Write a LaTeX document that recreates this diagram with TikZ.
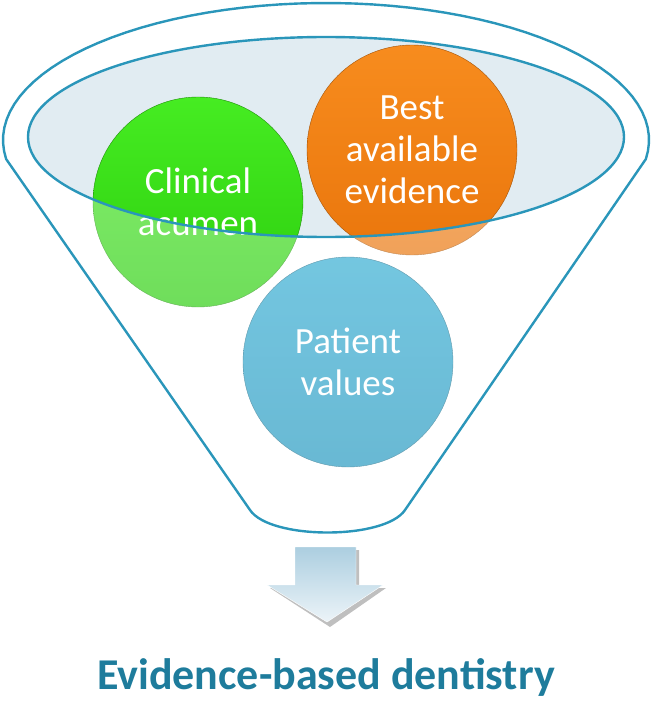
\documentclass[tikz,border=0pt]{standalone}
\usepackage{fontspec}
\setmainfont{Carlito}
\usepackage{xcolor}

\definecolor{funnelline}{RGB}{42,150,186}
\definecolor{rimfill}{RGB}{225,236,242}
\definecolor{greentop}{RGB}{70,236,34}
\definecolor{greenbot}{RGB}{44,206,14}
\definecolor{orangetop}{RGB}{247,140,30}
\definecolor{orangebot}{RGB}{234,118,12}
\definecolor{bluetop}{RGB}{50,172,210}
\definecolor{bluebot}{RGB}{34,152,192}
\definecolor{arrowtop}{RGB}{172,206,224}
\definecolor{arrowbot}{RGB}{236,244,248}
\definecolor{titleteal}{RGB}{30,124,156}

\begin{document}
\begin{tikzpicture}[x=1pt, y=-1pt,
    bubble/.style={circle, minimum size=210pt, inner sep=0pt, align=center, text=white, font=\fontsize{37}{42}\selectfont},
    funnel/.style={draw=funnelline, line width=2.4pt}]
    \useasboundingbox (0,0) rectangle (653,703);

    % Rim of the funnel
    \fill[rimfill] (326,137) ellipse [x radius=298, y radius=100];

    % Nodes
    \node[bubble, top color=greentop, bottom color=greenbot, draw=greenbot!70!black, thin] (clinical) at (198,202) {Clinical\\acumen};
    \node[bubble, top color=orangetop, bottom color=orangebot, draw=orangebot!70!black, thin] (evidence) at (412,150) {Best\\available\\evidence};
    \node[bubble, top color=bluetop, bottom color=bluebot, draw=bluebot!70!black, thin] (patient) at (348,362) {Patient\\values};

    % Funnel body (washes out what lies below the rim)
    \fill[white, fill opacity=.32, even odd rule]
        (250,510) -- plot[domain=188:-8, samples=60] ({326+323*cos(\x)},{140-137*sin(\x)})
        -- (405,510) .. controls (385,540) and (270,540) .. (250,510) -- cycle
        (326,137) ellipse [x radius=298, y radius=100];

    % Outlines
    \draw[funnel] (326,137) ellipse [x radius=298, y radius=100];
    \draw[funnel, line join=round]
        (250,510) -- plot[domain=188:-8, samples=60] ({326+323*cos(\x)},{140-137*sin(\x)})
        -- (405,510) .. controls (385,540) and (270,540) .. (250,510) -- cycle;

    % Arrow
    \fill[black, opacity=.25] (298,550) -- (359,550) -- (359,588) -- (386,588) -- (330,627) -- (270,588) -- (298,588) -- cycle;
    \shade[top color=arrowtop, bottom color=arrowbot, draw=white, thin]
        (295,547) -- (356,547) -- (356,585) -- (383,585) -- (327,622) -- (267,585) -- (295,585) -- cycle;

    % Title
    \node[anchor=base, text=titleteal, font=\fontsize{44}{50}\selectfont\bfseries] (title) at (326,689) {Evidence-based dentistry};
\end{tikzpicture}
\end{document}
